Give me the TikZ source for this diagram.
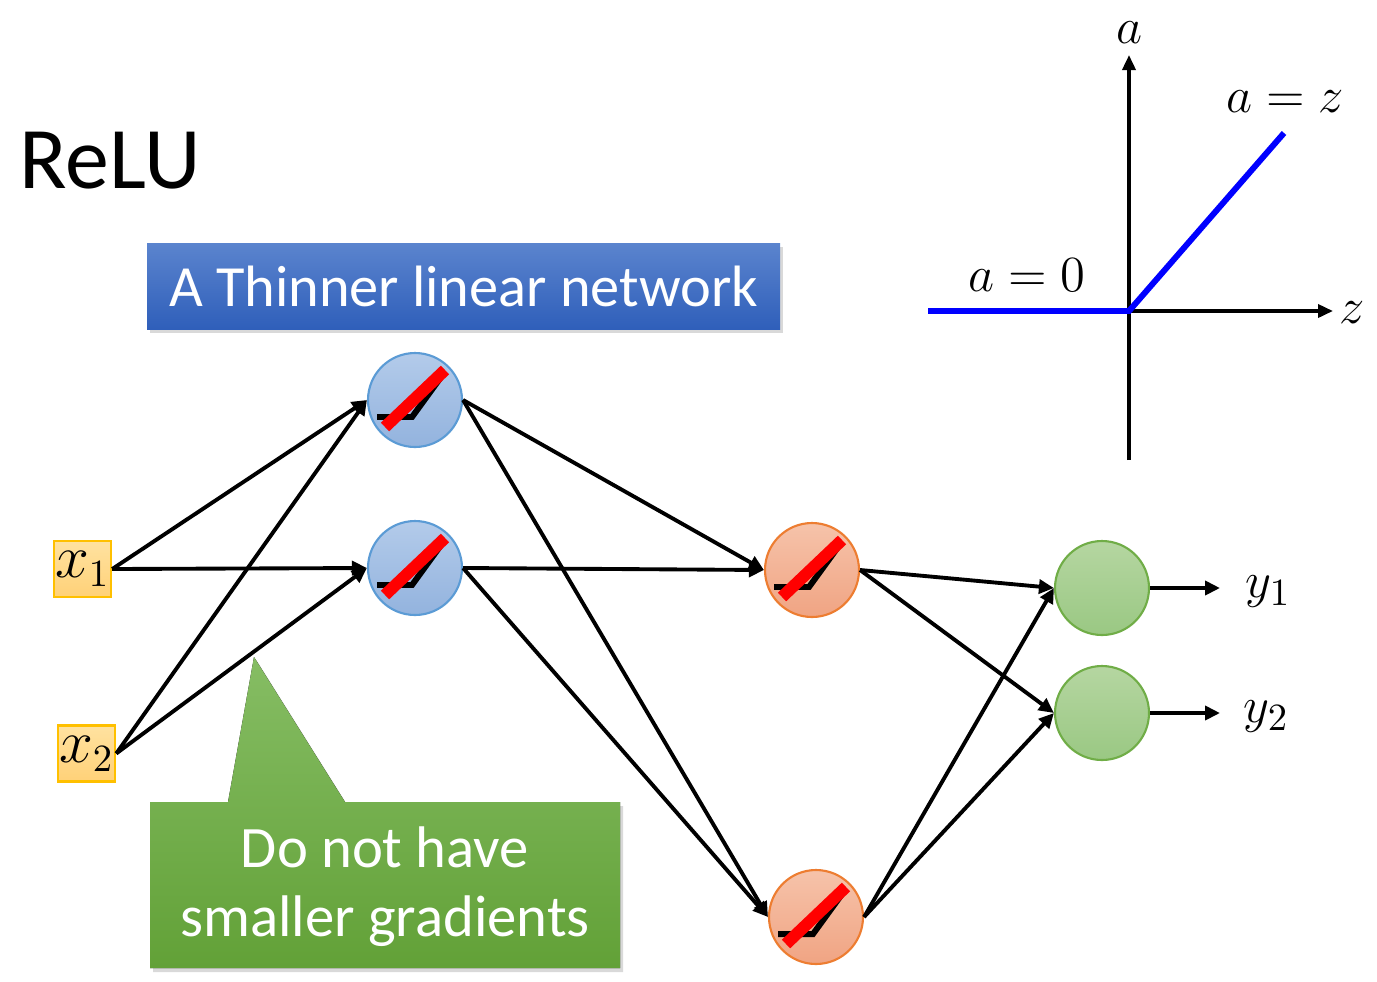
\documentclass[tikz,border=0pt]{standalone}
\usepackage{amsmath, amsfonts, amssymb}
\usepackage{fontspec}
\setmainfont{Carlito}
\usetikzlibrary{positioning, arrows.meta, shadows}

\definecolor{ringblue}{HTML}{5B9BD5}
\definecolor{ringorange}{HTML}{ED7D31}
\definecolor{ringgreen}{HTML}{70AD47}
\definecolor{ringgold}{HTML}{FFC000}
\definecolor{relublue}{HTML}{0000FF}
\definecolor{bluetop}{HTML}{B3CBEA}
\definecolor{bluebot}{HTML}{93B3DE}
\definecolor{orangetop}{HTML}{F6C3AA}
\definecolor{orangebot}{HTML}{F0A483}
\definecolor{greentop}{HTML}{B5D6A1}
\definecolor{greenbot}{HTML}{9AC883}
\definecolor{goldtop}{HTML}{FFE2A0}
\definecolor{goldbot}{HTML}{FFD178}
\definecolor{bannertop}{HTML}{5B84CE}
\definecolor{bannerbot}{HTML}{2F5FBA}
\definecolor{notetop}{HTML}{86BD64}
\definecolor{notebot}{HTML}{62A137}

\begin{document}
\begin{tikzpicture}[
        neuron/.style={circle, minimum size=0.94cm, inner sep=0pt, line width=0.6pt},
        hidblue/.style={neuron, draw=ringblue, top color=bluetop, bottom color=bluebot},
        hidorange/.style={neuron, draw=ringorange, top color=orangetop, bottom color=orangebot},
        outgreen/.style={neuron, draw=ringgreen, top color=greentop, bottom color=greenbot},
        inbox/.style={rectangle, draw=ringgold, line width=0.7pt, top color=goldtop, bottom color=goldbot,
            minimum width=0.57cm, minimum height=0.56cm, inner sep=0pt, font=\fontsize{16}{19}\selectfont},
        link/.style={line width=1.1pt, -{Triangle[length=0.15cm, width=0.14cm]}},
        axis/.style={line width=1pt, -{Triangle[length=0.15cm, width=0.13cm]}},
        mathlabel/.style={inner sep=0pt, font=\fontsize{15}{18}\selectfont},
        shadowed/.style={drop shadow={shadow xshift=0.03cm, shadow yshift=-0.04cm, opacity=0.3}}
    ]
        \useasboundingbox (0,0) rectangle (13.77,-9.81);

        \node[anchor=base west, inner sep=0pt, font=\fontsize{25}{30}\selectfont] (title) at (0.19,-1.88) {ReLU};

        \node[shadowed, rectangle, minimum width=6.33cm, minimum height=0.86cm, inner sep=0pt,
            top color=bannertop, bottom color=bannerbot, text=white,
            font=\fontsize{16.6}{20}\selectfont] (banner) at (4.635,-2.86) {A Thinner linear network};

        \node[inbox] (x1) at (0.825,-5.69) {$x_1$};
        \node[inbox] (x2) at (0.865,-7.535) {$x_2$};

        \node[hidblue] (h1) at (4.15,-4.00) {};
        \node[hidblue] (h2) at (4.15,-5.68) {};
        \node[hidorange] (o1) at (8.12,-5.70) {};
        \node[hidorange] (o2) at (8.16,-9.17) {};
        \node[outgreen] (g1) at (11.02,-5.88) {};
        \node[outgreen] (g2) at (11.02,-7.13) {};

        \foreach \n in {h1,h2,o1,o2}{%
                \draw[line width=1.7pt] ([shift={(-0.38,-0.17)}]\n.center) -- ++(0.35,0) -- ++(0.32,0.44);
                \draw[red, line width=3.4pt] ([shift={(-0.30,-0.27)}]\n.center) -- ++(0.60,0.57);
            }

        \foreach \s/\t in {x1/h1,x1/h2,x2/h1,x2/h2,h1/o1,h1/o2,h2/o1,h2/o2,o1/g1,o1/g2,o2/g1,o2/g2}{%
                \draw[link] (\s.east) -- (\t.west);
            }

        \node[mathlabel, anchor=west] (y1) at (12.45,-5.92) {$y_1$};
        \node[mathlabel, anchor=west] (y2) at (12.43,-7.17) {$y_2$};
        \coordinate (y1end) at (12.20,-5.88);
        \coordinate (y2end) at (12.20,-7.13);
        \draw[link] (g1.east) -- (y1end);
        \draw[link] (g2.east) -- (y2end);

        \fill[shadowed, top color=notetop, bottom color=notebot]
            (1.50,-8.02) -- (2.28,-8.02) -- (2.54,-6.57) -- (3.45,-8.02) -- (6.20,-8.02)
            -- (6.20,-9.68) -- (1.50,-9.68) -- cycle;
        \node[text=white, align=center, font=\fontsize{16.7}{19.6}\selectfont] (gradnote) at (3.85,-8.87)
            {Do not have\\smaller gradients};

        \coordinate (origin) at (11.29,-3.11);
        \coordinate (zleft) at (9.28,-3.11);
        \coordinate (zright) at (13.33,-3.11);
        \coordinate (abottom) at (11.29,-4.60);
        \coordinate (atop) at (11.29,-0.55);
        \draw[axis] (zleft) -- (zright);
        \draw[axis] (abottom) -- (atop);
        \node[mathlabel] (zlab) at (13.52,-3.13) {$z$};
        \node[mathlabel] (alab) at (11.29,-0.33) {$a$};
        \coordinate (ztip) at (12.84,-1.33);
        \draw[relublue, line width=1.7pt] (zleft) -- (origin) -- (ztip);
        \node[mathlabel] (eqz) at (12.85,-1.02) {$a = z$};
        \node[mathlabel] (eqzero) at (10.27,-2.75) {$a = 0$};
\end{tikzpicture}
\end{document}
